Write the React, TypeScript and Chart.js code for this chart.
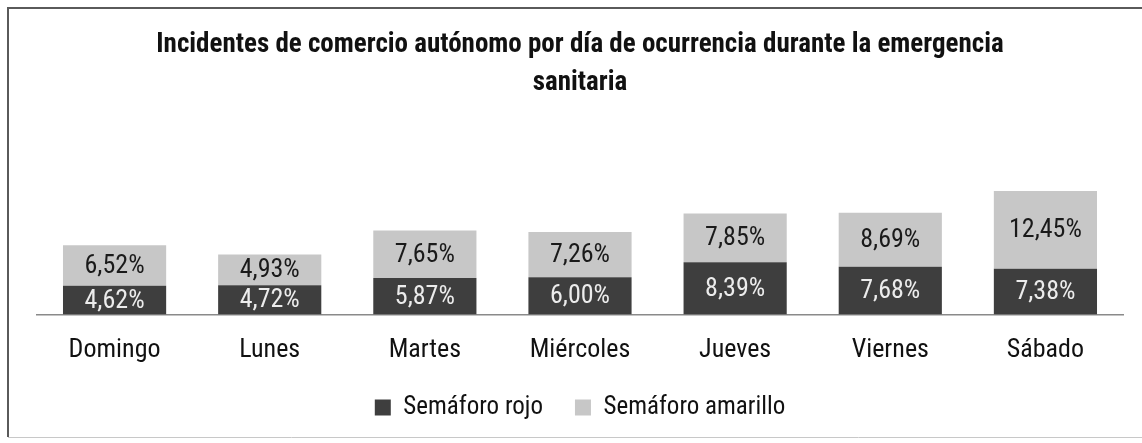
import React, { useEffect, useRef } from "react";
import { Chart, registerables } from "chart.js";

Chart.register(...registerables);

const categories = ["Domingo", "Lunes", "Martes", "Miércoles", "Jueves", "Viernes", "Sábado"];
const rojo = [4.62, 4.72, 5.87, 6.0, 8.39, 7.68, 7.38];
const amarillo = [6.52, 4.93, 7.65, 7.26, 7.85, 8.69, 12.45];
const seriesNames = ["Semáforo rojo", "Semáforo amarillo"];
const titleLines = [
  "Incidentes de comercio autónomo por día de ocurrencia durante la emergencia",
  "sanitaria",
];

const FONT = "'Roboto Condensed', 'Liberation Sans Narrow', 'DejaVu Sans Condensed', Roboto, sans-serif";

const fmt = (v: number) => v.toFixed(2).replace(".", ",") + "%";

const labelPlugin = {
  id: "barLabels",
  afterDatasetsDraw(chart: any) {
    const ctx = chart.ctx;
    ctx.save();
    ctx.font = `26px ${FONT}`;
    ctx.textAlign = "center";
    ctx.textBaseline = "middle";
    chart.data.datasets.forEach((ds: any, di: number) => {
      const meta = chart.getDatasetMeta(di);
      meta.data.forEach((bar: any, i: number) => {
        const { x, y, base } = bar.getProps(["x", "y", "base"], true);
        ctx.fillStyle = di === 0 ? "#ececec" : "#1a1a1a";
        ctx.fillText(fmt(ds.data[i]), x, (y + base) / 2 + 1);
      });
    });
    ctx.restore();
  },
};

const borderPlugin = {
  id: "frame",
  beforeDraw(chart: any) {
    const ctx = chart.ctx;
    ctx.save();
    ctx.fillStyle = "#ffffff";
    ctx.fillRect(0, 0, chart.width, chart.height);
    ctx.strokeStyle = "#5a5a5a";
    ctx.lineWidth = 2;
    ctx.beginPath();
    ctx.moveTo(8, 437);
    ctx.lineTo(8, 8);
    ctx.lineTo(chart.width, 8);
    ctx.stroke();
    ctx.strokeStyle = "#c8c8c8";
    ctx.lineWidth = 1;
    ctx.beginPath();
    ctx.moveTo(8, 437.5);
    ctx.lineTo(chart.width, 437.5);
    ctx.stroke();
    ctx.restore();
  },
};

export default function App() {
  const ref = useRef<HTMLCanvasElement>(null);
  useEffect(() => {
    if (!ref.current) return;
    const chart = new Chart(ref.current, {
      type: "bar",
      data: {
        labels: categories,
        datasets: [
          { label: seriesNames[0], data: rojo, backgroundColor: "#3e3e3e", categoryPercentage: 1, barPercentage: 0.665 },
          { label: seriesNames[1], data: amarillo, backgroundColor: "#c7c7c7", categoryPercentage: 1, barPercentage: 0.665 },
        ],
      },
      options: {
        animation: false,
        responsive: false,
        maintainAspectRatio: false,
        layout: { padding: { left: 37, right: 19, top: 15, bottom: 13 } },
        plugins: {
          title: {
            display: true,
            text: titleLines,
            color: "#111",
            font: { family: FONT, size: 27, weight: "bold", lineHeight: 1.42 },
            padding: { top: 11, bottom: 40 },
          },
          legend: {
            position: "bottom",
            labels: {
              color: "#111",
              font: { family: FONT, size: 25 },
              boxWidth: 16,
              boxHeight: 16,
              padding: 32,
            },
          },
          tooltip: { enabled: false },
        },
        scales: {
          x: {
            stacked: true,
            grid: { display: false, drawTicks: false },
            border: { display: true, color: "#8a8a8a", width: 1.5 },
            ticks: { color: "#111", font: { family: FONT, size: 26, lineHeight: 0.9 }, padding: 24 },
            afterFit: (scale: any) => {
              scale.height = scale.height - 23;
            },
          },
          y: {
            stacked: true,
            display: false,
            min: 0,
            max: 27.6,
          },
        },
      },
      plugins: [borderPlugin, labelPlugin],
    });
    return () => chart.destroy();
  }, []);
  return (
    <div style={{ position: "absolute", left: 0, top: 0, width: 1142, height: 443, overflow: "hidden" }}>
      <canvas ref={ref} width={1142} height={443} style={{ display: "block", width: 1142, height: 443 }} />
    </div>
  );
}
